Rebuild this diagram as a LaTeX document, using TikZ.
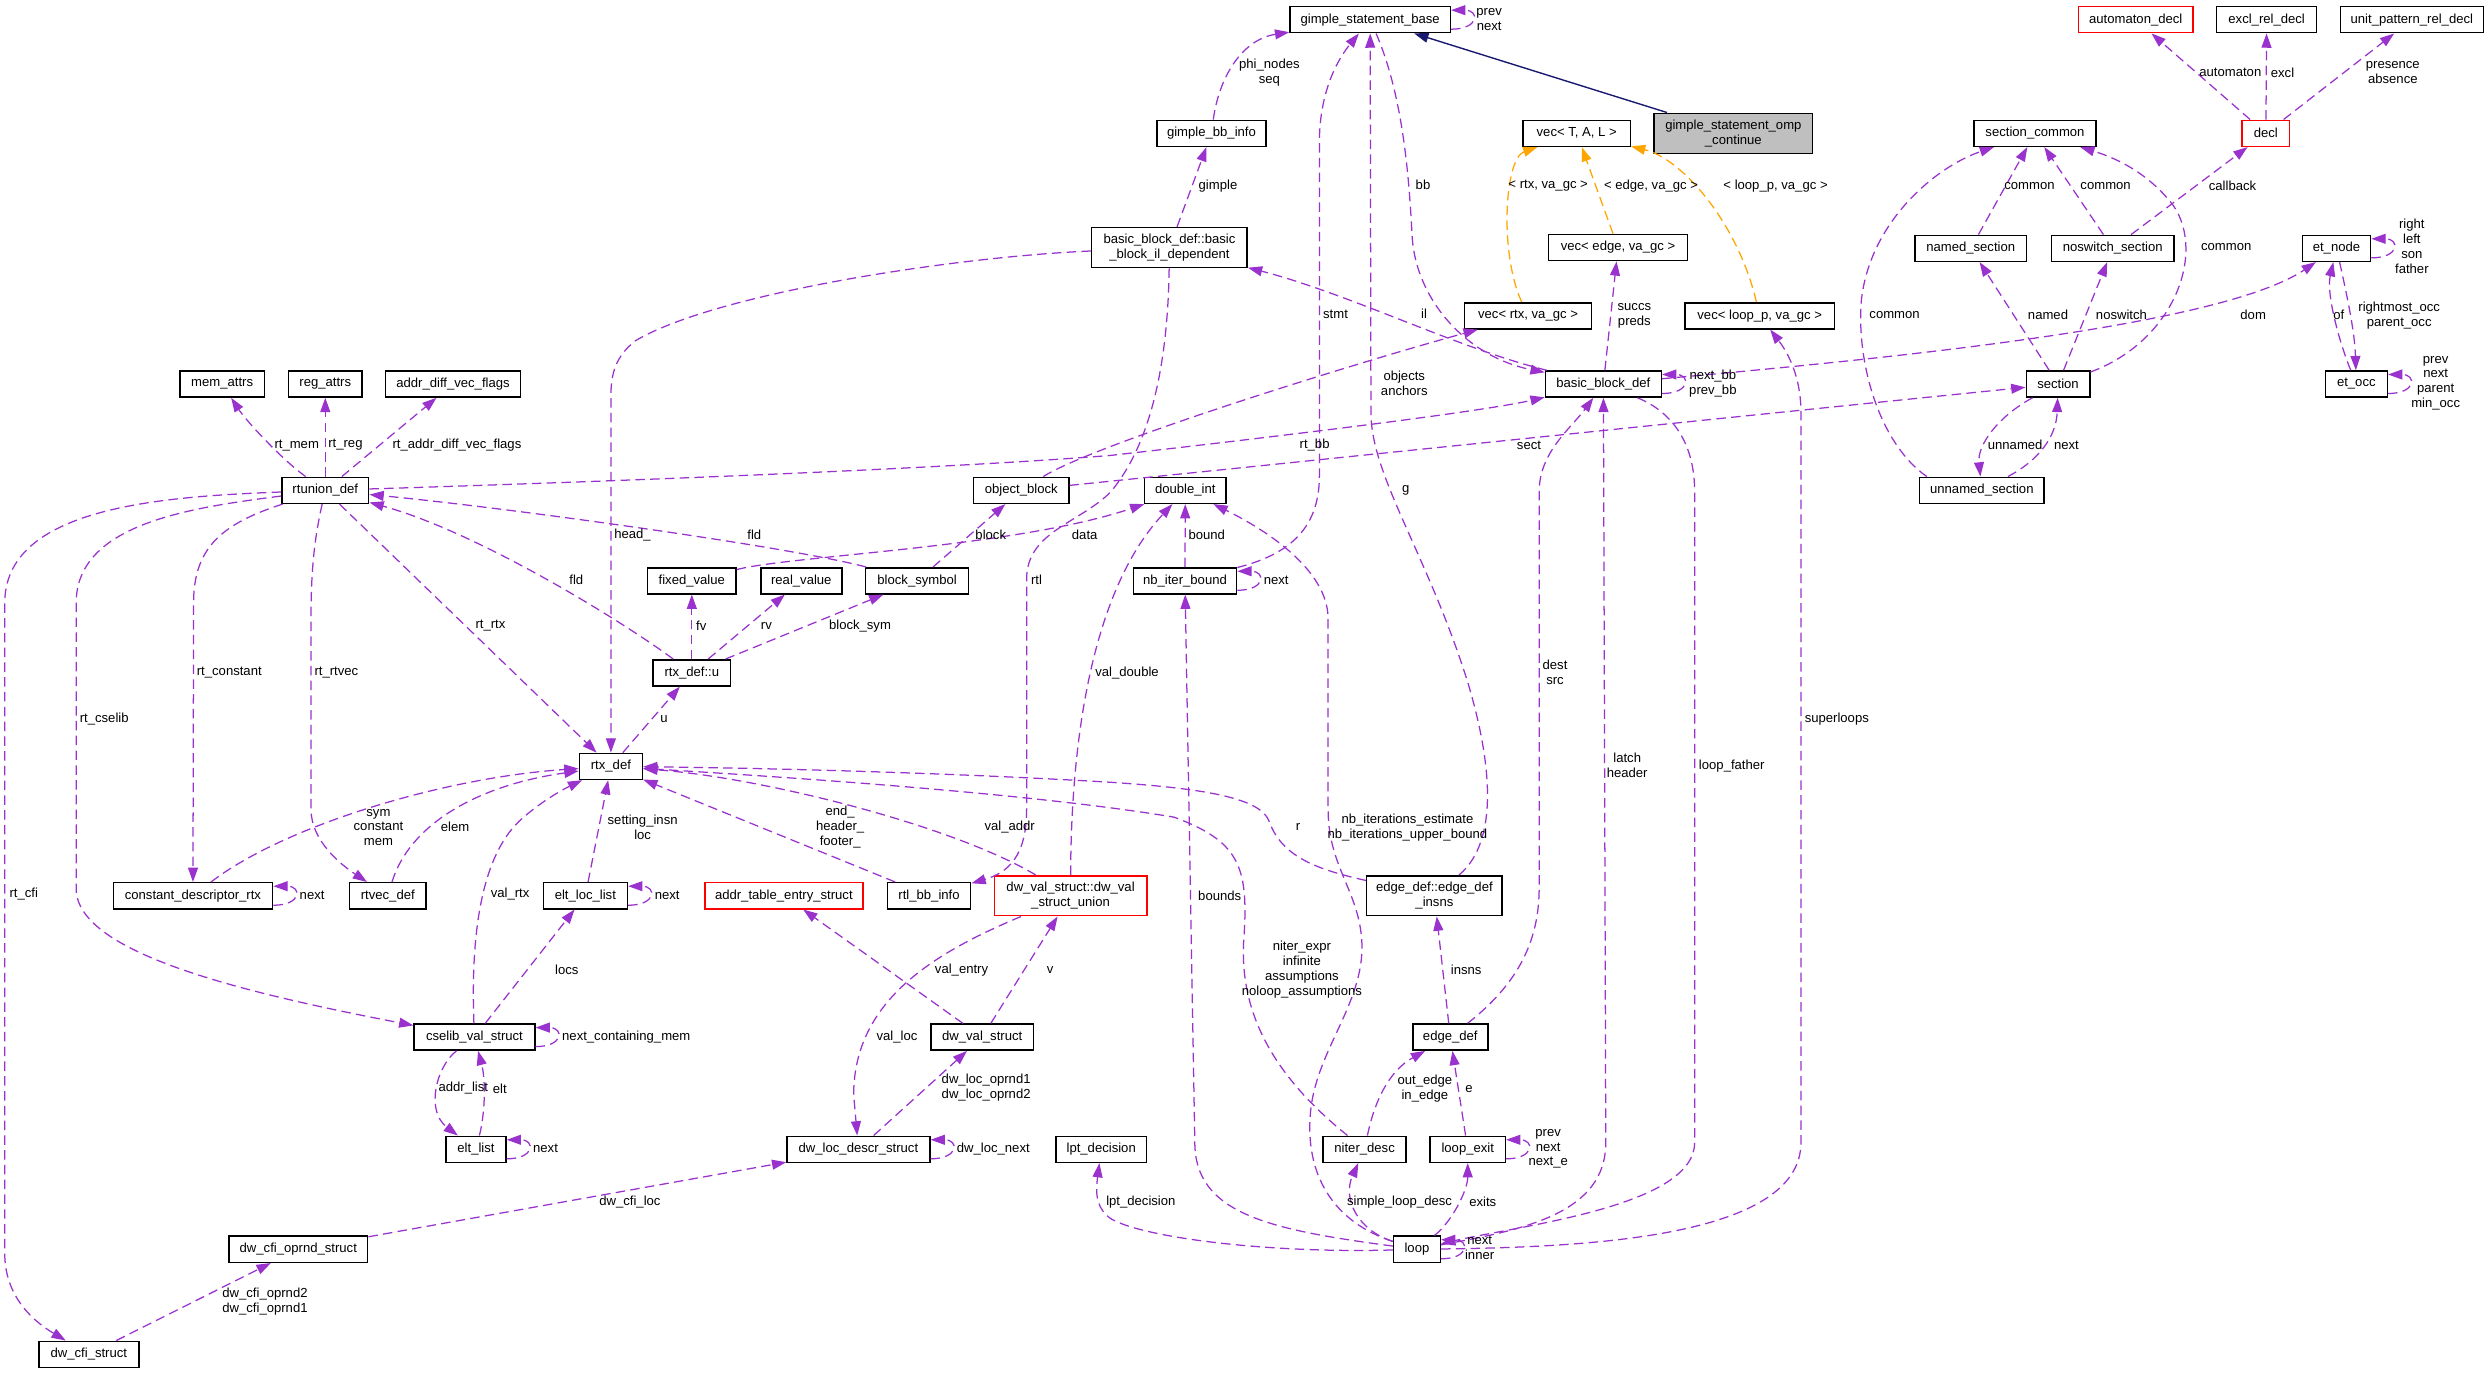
\documentclass[tikz,border=0pt]{standalone}
\usepackage{fontspec}
\setmainfont{Liberation Sans}
\usepackage{tikz}
\usetikzlibrary{arrows.meta}

\definecolor{edgepurple}{HTML}{9A32CD}
\definecolor{tmplorange}{HTML}{FFA500}
\definecolor{inhnavy}{HTML}{191970}
\definecolor{boxgray}{HTML}{BFBFBF}

\newcommand{\selfedge}[1]{\draw[dep] ([yshift=-1.2mm]#1.east) .. controls +(3.6mm,0) and +(3.6mm,0) .. ([yshift=1.2mm]#1.east);}

\begin{document}
\begin{tikzpicture}[
			x=0.2mm, y=-0.2mm
			,every node/.append style={font=\fontsize{4.7}{5.35}\selectfont}
			,cls/.style={draw=black, fill=white, line width=0.55pt, minimum height=3.28mm, inner sep=0.5pt}
			,bw/.style={minimum width=#1*0.2mm}
			,two/.style={align=center, minimum height=5.04mm}
			,undoc/.style={draw=red}
			,root/.style={fill=boxgray}
			,lbl/.style={inner sep=0pt, align=center}
			,dep/.style={draw=edgepurple, line width=0.45pt, dash pattern=on 3.4pt off 1.9pt, -{Triangle[length=1.8mm, width=1.25mm]}}
			,tmpl/.style={dep, draw=tmplorange}
			,inh/.style={draw=inhnavy, line width=0.5pt, -{Triangle[length=1.8mm, width=1.25mm]}}
		]
		\useasboundingbox (0,0) rectangle (1568,865);

		% classes
		\node [cls, bw=101] (gsb) at (863.5,12.4) {gimple\_statement\_base};
		\node [cls, two, root, bw=100] (omp) at (1092.4,84) {gimple\_statement\_omp\\\_continue};
		\node [cls, undoc, bw=72] (autodecl) at (1346,12.4) {automaton\_decl};
		\node [cls, bw=63] (excl) at (1428.5,12.4) {excl\_rel\_decl};
		\node [cls, bw=90] (unitpat) at (1520,12.4) {unit\_pattern\_rel\_decl};
		\node [cls, undoc, bw=30] (decl) at (1428,84) {decl};
		\node [cls, bw=77] (seccommon) at (1282.5,84) {section\_common};
		\node [cls, bw=69] (gbbinfo) at (763.5,84) {gimple\_bb\_info};
		\node [cls, bw=67.5] (vecTAL) at (993.7,84) {vec< T, A, L >};
		\node [cls, two, bw=98] (ildep) at (737,156) {basic\_block\_def::basic\\\_block\_il\_dependent};
		\node [cls, bw=87.6] (vecedge) at (1019.7,156) {vec< edge, va\_gc >};
		\node [cls, bw=70] (namedsec) at (1242,156.5) {named\_section};
		\node [cls, bw=77] (noswitch) at (1331.5,156.5) {noswitch\_section};
		\node [cls, bw=43] (etnode) at (1472.5,156.5) {et\_node};
		\node [cls, bw=80] (vecrtx) at (963,199) {vec< rtx, va\_gc >};
		\node [cls, bw=94] (vecloop) at (1109,199) {vec< loop\_p, va\_gc >};
		\node [cls, bw=53.4] (memattrs) at (140,242) {mem\_attrs};
		\node [cls, bw=46.4] (regattrs) at (205,242) {reg\_attrs};
		\node [cls, bw=85] (addrdiff) at (285.5,242) {addr\_diff\_vec\_flags};
		\node [cls, bw=73] (bbdef) at (1010.5,242) {basic\_block\_def};
		\node [cls, bw=40] (section) at (1297,242) {section};
		\node [cls, bw=39] (etocc) at (1485,242) {et\_occ};
		\node [cls, bw=54.7] (rtunion) at (205,309) {rtunion\_def};
		\node [cls, bw=60] (objblock) at (643.6,309) {object\_block};
		\node [cls, bw=51.4] (doubleint) at (747,309) {double\_int};
		\node [cls, bw=78.4] (unnamed) at (1249,309) {unnamed\_section};
		\node [cls, bw=55.7] (fixedval) at (436,366) {fixed\_value};
		\node [cls, bw=51] (realval) at (505,366) {real\_value};
		\node [cls, bw=65] (blocksym) at (578,366) {block\_symbol};
		\node [cls, bw=65] (nbiter) at (746.8,366) {nb\_iter\_bound};
		\node [cls, bw=48.8] (rtxu) at (436,424) {rtx\_def::u};
		\node [cls, bw=39.7] (rtxdef) at (385,483) {rtx\_def};
		\node [cls, bw=100.4] (cdrtx) at (121.6,564.5) {constant\_descriptor\_rtx};
		\node [cls, bw=48.4] (rtvec) at (244.4,564.5) {rtvec\_def};
		\node [cls, bw=53] (eltloclist) at (368.9,564.5) {elt\_loc\_list};
		\node [cls, undoc, bw=99.5] (addrtable) at (494,564.5) {addr\_table\_entry\_struct};
		\node [cls, bw=52.5] (rtlbb) at (585.5,564.5) {rtl\_bb\_info};
		\node [cls, two, undoc, bw=96] (dwvalunion) at (674.7,564.5) {dw\_val\_struct::dw\_val\\\_struct\_union};
		\node [cls, two, bw=85.4] (edgeinsns) at (904,564.5) {edge\_def::edge\_def\\\_insns};
		\node [cls, bw=76] (cselib) at (299,653.6) {cselib\_val\_struct};
		\node [cls, bw=64.7] (dwval) at (619,653.6) {dw\_val\_struct};
		\node [cls, bw=47.3] (edgedef) at (914,653.6) {edge\_def};
		\node [cls, bw=37.7] (eltlist) at (300,724.3) {elt\_list};
		\node [cls, bw=90] (dwloc) at (541,724.3) {dw\_loc\_descr\_struct};
		\node [cls, bw=57] (lpt) at (694,724.3) {lpt\_decision};
		\node [cls, bw=52.4] (niter) at (860,724.3) {niter\_desc};
		\node [cls, bw=47.4] (loopexit) at (925,724.3) {loop\_exit};
		\node [cls, bw=87.4] (dwcfioprnd) at (188,787.3) {dw\_cfi\_oprnd\_struct};
		\node [cls, bw=29.4] (loop) at (893,787.3) {loop};
		\node [cls, bw=63] (dwcfi) at (56,853.5) {dw\_cfi\_struct};

		% top part
		\draw[inh] (omp) -- (gsb);
		\selfedge{gsb}
		\draw[dep] (gbbinfo) .. controls (768,50) and (782,25) .. (gsb);
		\draw[dep] (ildep) -- (gbbinfo);
		\draw[dep] (nbiter) .. controls (810,350) and (831.5,335) .. (831.5,300) -- (831.5,90) .. controls (831.5,55) and (845,35) .. (gsb);
		\draw[dep] (gsb) .. controls (884,60) and (888,110) .. (890,150) .. controls (893,190) and (925,225) .. (bbdef);
		\draw[dep] (edgeinsns) .. controls (945,530) and (940,480) .. (925,430) .. controls (900,350) and (864,300) .. (864,260) -- (gsb);
		\draw[dep] (objblock) .. controls (690,280) and (850,230) .. (vecrtx);
		\draw[dep] (rtunion) .. controls (400,303) and (600,295) .. (700,287) .. controls (850,270) and (940,258) .. (bbdef);
		\draw[dep] (objblock) .. controls (800,293) and (1100,262) .. (section);
		\draw[dep] (edgedef) .. controls (950,625) and (970,600) .. (970,560) -- (970,310) .. controls (970,285) and (990,270) .. (bbdef);
		\draw[dep] (loop) .. controls (960,775) and (1012,765) .. (1012,720) -- (bbdef);
		\draw[dep] (bbdef) .. controls (1050,258) and (1068,275) .. (1068,310) -- (1068,720) .. controls (1068,760) and (960,772) .. (loop);
		\draw[dep] (loop) .. controls (1000,786) and (1135,780) .. (1135,720) -- (1135,260) .. controls (1135,235) and (1125,220) .. (vecloop);
		\selfedge{bbdef}
		\draw[dep] (bbdef) .. controls (920,220) and (850,185) .. (ildep);
		\draw[dep] (bbdef) -- (vecedge);
		\draw[dep] (bbdef) .. controls (1200,225) and (1400,205) .. (etnode);
		\draw[tmpl] (vecrtx) .. controls (945,160) and (948,100) .. (vecTAL);
		\draw[tmpl] (vecedge) -- (vecTAL);
		\draw[tmpl] (vecloop) .. controls (1095,140) and (1060,100) .. (vecTAL);

		% sections and decls
		\draw[dep] (namedsec) -- (seccommon);
		\draw[dep] (noswitch) -- (seccommon);
		\draw[dep] (section) .. controls (1370,215) and (1390,160) .. (1370,130) .. controls (1355,110) and (1335,100) .. (seccommon);
		\draw[dep] ([xshift=1mm]unnamed.north west) .. controls (1185,280) and (1170,230) .. (1173,190) .. controls (1178,140) and (1220,105) .. (seccommon);
		\draw[dep] (section) -- (namedsec);
		\draw[dep] (section) -- (noswitch);
		\draw[dep] (noswitch) -- (decl);
		\draw[dep] (decl) -- (autodecl);
		\draw[dep] (decl) -- (excl);
		\draw[dep] (decl) -- (unitpat);
		\draw[dep] (section) .. controls (1260,262) and (1246,280) .. (unnamed);
		\draw[dep] (unnamed) .. controls (1285,290) and (1296,275) .. (section);
		\selfedge{etnode}
		\draw[dep] (etnode) .. controls (1480,190) and (1484,210) .. (etocc);
		\draw[dep] (etocc) .. controls (1474,215) and (1466,185) .. (etnode);
		\selfedge{etocc}

		% rtunion_def and rtx_def
		\draw[dep] (rtunion) .. controls (178,290) and (155,265) .. (memattrs);
		\draw[dep] (rtunion) -- (regattrs);
		\draw[dep] (rtunion) -- (addrdiff);
		\draw[dep] (rtunion) .. controls (140,330) and (122,345) .. (122,380) -- (cdrtx);
		\draw[dep] (rtunion) .. controls (198,340) and (196,360) .. (196,390) -- (196,510) .. controls (196,530) and (215,545) .. (rtvec);
		\draw[dep] (rtunion) .. controls (120,320) and (48,330) .. (48,380) -- (48,560) .. controls (48,600) and (150,625) .. (cselib);
		\draw[dep] (rtunion) .. controls (100,313) and (3,320) .. (3,380) -- (3,790) .. controls (3,820) and (25,835) .. (dwcfi);
		\draw[dep] (rtunion) -- (rtxdef);
		\draw[dep] (ildep) .. controls (600,162) and (450,185) .. (400,215) .. controls (388,225) and (385,235) .. (385,250) -- (rtxdef);
		\draw[dep] (rtxdef) -- (rtxu);
		\draw[dep] (rtxu) .. controls (390,390) and (300,335) .. (rtunion);
		\draw[dep] (blocksym) .. controls (500,345) and (320,320) .. (rtunion);
		\draw[dep] (rtxu) -- (fixedval);
		\draw[dep] (rtxu) -- (realval);
		\draw[dep] (rtxu) -- (blocksym);
		\draw[dep] (fixedval) .. controls (500,350) and (640,345) .. (doubleint);
		\draw[dep] (blocksym) -- (objblock);
		\draw[dep] (cdrtx) .. controls (180,520) and (280,490) .. (rtxdef);
		\draw[dep] (rtvec) .. controls (258,520) and (300,495) .. (rtxdef);
		\draw[dep] (cselib) .. controls (297,600) and (300,540) .. (330,515) .. controls (345,502) and (360,495) .. (rtxdef);
		\draw[dep] (eltloclist) -- (rtxdef);
		\draw[dep] (rtlbb) -- (rtxdef);
		\draw[dep] (dwvalunion) .. controls (600,520) and (480,490) .. (rtxdef);
		\draw[dep] (edgeinsns) .. controls (830,548) and (808,540) .. (800,518) .. controls (795,503) and (760,497) .. (700,493) .. controls (600,487) and (480,484) .. (rtxdef);
		\draw[dep] (niter) .. controls (805,680) and (780,640) .. (784,590) .. controls (787,545) and (780,530) .. (740,515) .. controls (650,500) and (500,490) .. (rtxdef);
		\draw[dep] (ildep) .. controls (736,230) and (725,280) .. (700,310) .. controls (680,330) and (647,335) .. (647,365) -- (647,510) .. controls (647,540) and (635,550) .. (rtlbb);
		\selfedge{cdrtx}
		\selfedge{eltloclist}

		% double_int and loops
		\draw[dep] (dwvalunion) .. controls (675,460) and (690,370) .. (doubleint);
		\draw[dep] (nbiter) -- (doubleint);
		\selfedge{nbiter}
		\draw[dep] (loop) .. controls (800,775) and (753,765) .. (753,720) -- (nbiter);
		\draw[dep] (loop) .. controls (855,775) and (846,755) .. (niter);
		\draw[dep] (loop) .. controls (915,770) and (925,750) .. (loopexit);
		\draw[dep] (loop) .. controls (800,790) and (720,780) .. (700,768) .. controls (692,762) and (690,755) .. (lpt);
		\draw[dep] (loop) .. controls (840,770) and (822,740) .. (826,700) .. controls (830,660) and (862,630) .. (858,590) .. controls (855,560) and (837,545) .. (837,510) -- (837,390) .. controls (837,360) and (800,335) .. (doubleint);
		\draw[dep] (edgedef) -- (edgeinsns);
		\draw[dep] (loopexit) -- (edgedef);
		\draw[dep] (niter) .. controls (866,695) and (875,675) .. (edgedef);
		\selfedge{loopexit}
		\selfedge{loop}

		% dwarf part
		\draw[dep] (dwval) -- (dwvalunion);
		\draw[dep] (dwval) -- (addrtable);
		\draw[dep] (dwvalunion) .. controls (590,600) and (538,630) .. (538,690) -- (dwloc);
		\draw[dep] (dwloc) -- (dwval);
		\selfedge{dwloc}
		\draw[dep] (dwcfioprnd) -- (dwloc);
		\draw[dep] (dwcfi) -- (dwcfioprnd);
		\draw[dep] (cselib) -- (eltloclist);
		\draw[dep] (cselib) .. controls (275,672) and (268,700) .. (eltlist);
		\draw[dep] (eltlist) .. controls (306,700) and (306,680) .. (cselib);
		\selfedge{eltlist}
		\selfedge{cselib}

		% edge labels
		\node [lbl] (lb-gsbloop) at (938.5,12.1) {prev\\next};
		\node [lbl] (lb-phi) at (800,45.7) {phi\_nodes\\seq};
		\node [lbl] (lb-automaton) at (1405.6,45.8) {automaton};
		\node [lbl] (lb-excl) at (1438.5,45.8) {excl};
		\node [lbl] (lb-presence) at (1508,45.7) {presence\\absence};
		\node [lbl] (lb-gimple) at (767.6,117) {gimple};
		\node [lbl] (lb-bb) at (896.8,116.6) {bb};
		\node [lbl] (lb-vrtx) at (975.7,117) {< rtx, va\_gc >};
		\node [lbl] (lb-vedge) at (1040.5,117) {< edge, va\_gc >};
		\node [lbl] (lb-vloop) at (1119,117) {< loop\_p, va\_gc >};
		\node [lbl] (lb-common1) at (1279,117) {common};
		\node [lbl] (lb-common2) at (1327,117) {common};
		\node [lbl] (lb-callback) at (1407,117) {callback};
		\node [lbl] (lb-common3) at (1403,155.6) {common};
		\node [lbl] (lb-etloop) at (1520,155.2) {right\\left\\son\\father};
		\node [lbl] (lb-stmt) at (841.7,198) {stmt};
		\node [lbl] (lb-il) at (897.5,198) {il};
		\node [lbl] (lb-succs) at (1030,198.8) {succs\\preds};
		\node [lbl] (lb-common4) at (1194,198.5) {common};
		\node [lbl] (lb-named) at (1290.7,198.5) {named};
		\node [lbl] (lb-noswitch) at (1337,198.5) {noswitch};
		\node [lbl] (lb-dom) at (1420,198.5) {dom};
		\node [lbl] (lb-of) at (1474,198.5) {of};
		\node [lbl] (lb-rightmost) at (1512,198.7) {rightmost\_occ\\parent\_occ};
		\node [lbl] (lb-objects) at (885,241.5) {objects\\anchors};
		\node [lbl] (lb-bbloop) at (1079.5,241.5) {next\_bb\\prev\_bb};
		\node [lbl] (lb-occloop) at (1535,241.5) {prev\\next\\parent\\min\_occ};
		\node [lbl] (lb-rtmem) at (187,280.5) {rt\_mem};
		\node [lbl] (lb-rtreg) at (217.7,280.5) {rt\_reg};
		\node [lbl] (lb-rtaddr) at (288,280.5) {rt\_addr\_diff\_vec\_flags};
		\node [lbl] (lb-rtbb) at (828.5,280.5) {rt\_bb};
		\node [lbl] (lb-sect) at (963.6,280.5) {sect};
		\node [lbl] (lb-unnamed) at (1270,280.5) {unnamed};
		\node [lbl] (lb-secnext) at (1302.3,280.5) {next};
		\node [lbl] (lb-g) at (886,309) {g};
		\node [lbl] (lb-head) at (398.6,337) {head\_};
		\node [lbl] (lb-fld1) at (475.4,337) {fld};
		\node [lbl] (lb-block) at (624.4,337) {block};
		\node [lbl] (lb-data) at (683.6,337) {data};
		\node [lbl] (lb-bound) at (760.5,337) {bound};
		\node [lbl] (lb-fld2) at (363.2,365.7) {fld};
		\node [lbl] (lb-rtl) at (653.2,365.7) {rtl};
		\node [lbl] (lb-nbnext) at (804.3,365.7) {next};
		\node [lbl] (lb-rtrtx) at (309.1,394.3) {rt\_rtx};
		\node [lbl] (lb-fv) at (442,394.3) {fv};
		\node [lbl] (lb-rv) at (483,394.3) {rv};
		\node [lbl] (lb-blocksym) at (542,394.3) {block\_sym};
		\node [lbl] (lb-rtconst) at (144.5,424) {rt\_constant};
		\node [lbl] (lb-rtrtvec) at (212,424) {rt\_rtvec};
		\node [lbl] (lb-valdouble) at (710.3,424) {val\_double};
		\node [lbl] (lb-dest) at (980,423.8) {dest\\src};
		\node [lbl] (lb-superloops) at (1157.6,453) {superloops};
		\node [lbl] (lb-rtcselib) at (65.7,453) {rt\_cselib};
		\node [lbl] (lb-u) at (418.4,453) {u};
		\node [lbl] (lb-latch) at (1025.5,482.5) {latch\\header};
		\node [lbl] (lb-loopfather) at (1091.4,482.6) {loop\_father};
		\node [lbl] (lb-sym) at (238.5,521.5) {sym\\constant\\mem};
		\node [lbl] (lb-elem) at (286.8,521) {elem};
		\node [lbl] (lb-setting) at (405,521.5) {setting\_insn\\loc};
		\node [lbl] (lb-end) at (529.5,521) {end\_\\header\_\\footer\_};
		\node [lbl] (lb-valaddr) at (636.3,521) {val\_addr};
		\node [lbl] (lb-r) at (818,521) {r};
		\node [lbl] (lb-nbiter) at (887,521.5) {nb\_iterations\_estimate\\nb\_iterations\_upper\_bound};
		\node [lbl] (lb-cdnext) at (196.7,564.4) {next};
		\node [lbl] (lb-rtcfi) at (15,563.6) {rt\_cfi};
		\node [lbl] (lb-valrtx) at (321.5,563.6) {val\_rtx};
		\node [lbl] (lb-elnext) at (420.5,564.4) {next};
		\node [lbl] (lb-bounds) at (768.7,564.4) {bounds};
		\node [lbl] (lb-niterexpr) at (820.5,611.1) {niter\_expr\\infinite\\assumptions\\noloop\_assumptions};
		\node [lbl] (lb-valentry) at (606,611.3) {val\_entry};
		\node [lbl] (lb-v) at (661.9,611.3) {v};
		\node [lbl] (lb-locs) at (357.2,611) {locs};
		\node [lbl] (lb-insns) at (924,611.3) {insns};
		\node [lbl] (lb-valloc) at (565.3,653.4) {val\_loc};
		\node [lbl] (lb-nextcont) at (394.7,653.6) {next\_containing\_mem};
		\node [lbl] (lb-addrlist) at (292,686) {addr\_list};
		\node [lbl] (lb-elt) at (315,686) {elt};
		\node [lbl] (lb-oprnd) at (621.5,685.7) {dw\_loc\_oprnd1\\dw\_loc\_oprnd2};
		\node [lbl] (lb-outedge) at (898,685.8) {out\_edge\\in\_edge};
		\node [lbl] (lb-e) at (925.8,686.3) {e};
		\node [lbl] (lb-eltnext) at (343.8,724) {next};
		\node [lbl] (lb-locnext) at (626,724) {dw\_loc\_next};
		\node [lbl] (lb-exitloop) at (975.7,724) {prev\\next\\next\_e};
		\node [lbl] (lb-lpt) at (719,757.4) {lpt\_decision};
		\node [lbl] (lb-simple) at (882,757.4) {simple\_loop\_desc};
		\node [lbl] (lb-exits) at (934.5,757.4) {exits};
		\node [lbl] (lb-cfiloc) at (397,757.4) {dw\_cfi\_loc};
		\node [lbl] (lb-looploop) at (932.5,786.5) {next\\inner};
		\node [lbl] (lb-cfioprnd) at (167,820.4) {dw\_cfi\_oprnd2\\dw\_cfi\_oprnd1};
\end{tikzpicture}
\end{document}
